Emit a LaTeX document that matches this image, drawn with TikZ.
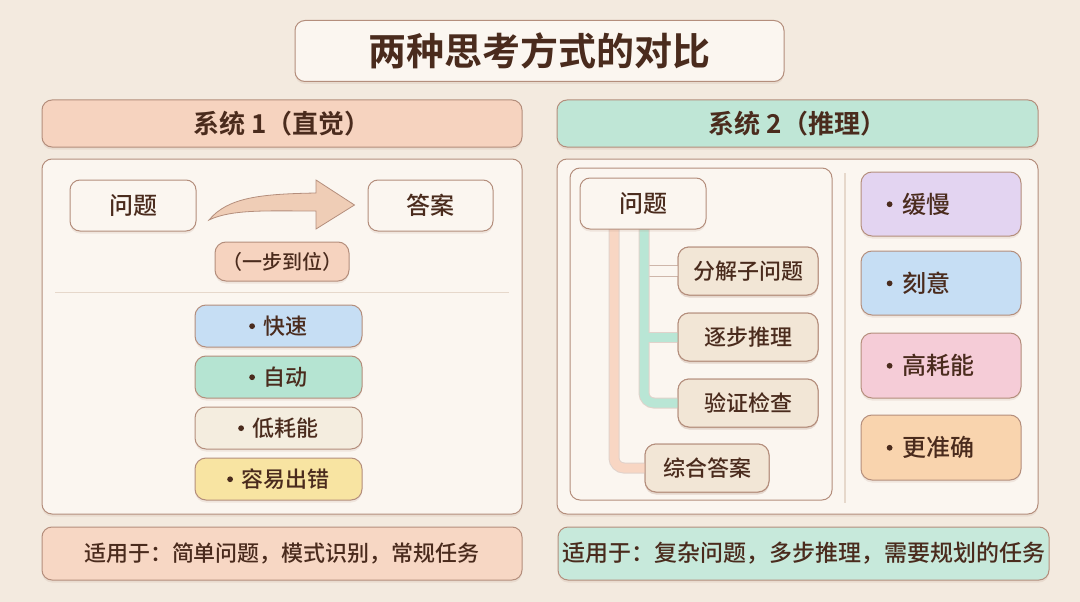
\documentclass[tikz,border=0pt]{standalone}
\usepackage{fontspec}
\setmainfont{Noto Sans CJK SC Medium}[BoldFont={Noto Sans CJK SC Bold}]
\usetikzlibrary{shadows,calc}
\definecolor{bg}{HTML}{F3EADF}
\definecolor{panel}{HTML}{FBF6F0}
\definecolor{bord}{HTML}{B48E7C}
\definecolor{ink}{HTML}{4A2B1D}
\definecolor{peach}{HTML}{F6D3BF}
\definecolor{mint}{HTML}{BFE6D6}
\definecolor{cblue}{HTML}{C6DEF4}
\definecolor{cgreen}{HTML}{B5E4D2}
\definecolor{cream}{HTML}{F4EDDF}
\definecolor{cyellow}{HTML}{F8E4A2}
\definecolor{cpurple}{HTML}{E3D4F1}
\definecolor{cpink}{HTML}{F5CCD7}
\definecolor{corange}{HTML}{F9D4AE}
\definecolor{beige}{HTML}{F2E6D6}
\definecolor{divc}{HTML}{E6D8CB}
\definecolor{arrowf}{HTML}{EFCDB6}
\definecolor{lpeach}{HTML}{F8D6C3}
\definecolor{lgreen}{HTML}{B9E6D5}
\newcommand{\bul}{\raisebox{\dimexpr0.37em-2.9pt\relax}{\tikz\fill[ink] (0,0) circle (2.9pt);}\hspace{0.4em}}
\tikzset{
  shad/.style={drop shadow={shadow xshift=0pt,shadow yshift=-2.5pt,opacity=0.16,fill=bord}},
  box/.style={draw=bord, line width=1pt, rounded corners=10pt, text=ink, inner sep=0pt, fill=panel, shad},
  pill/.style={box, rounded corners=11pt},
  ttl/.style={font=\fontsize{38}{40}\selectfont\bfseries},
  hdr/.style={font=\fontsize{26}{28}\selectfont\bfseries},
  big/.style={font=\fontsize{24}{26}\selectfont},
  mid/.style={font=\fontsize{22}{24}\selectfont},
  sml/.style={font=\fontsize{20}{22}\selectfont},
  lbl/.style={text=ink, inner sep=0pt, anchor=west},
}
\begin{document}
\begin{tikzpicture}[x=1pt,y=-1pt]
\fill[bg] (0,0) rectangle (1080,602);
\useasboundingbox (0,0) rectangle (1080,602);

% title
\node[box, ttl, minimum width=489pt, minimum height=61pt] (title) at (539.5,51) {两种思考方式的对比};

% ---------- system 1 ----------
\node[box, hdr, fill=peach, minimum width=480pt, minimum height=47pt] (h1) at (282,123.5) {系统 1（直觉）};
\node[box, minimum width=480pt, minimum height=355pt] (p1) at (282,336.5) {};
\node[box, big, minimum width=126pt, minimum height=51pt] (q1) at (133,205.5) {问题};
\node[box, big, minimum width=125pt, minimum height=51pt] (a1) at (430.5,205.5) {答案};
\filldraw[fill=arrowf, draw=bord, line width=0.8pt]
  (209,220) .. controls (228,197) and (262,194) .. (316,193)
  -- (316,180) -- (354.5,205) -- (316,229) -- (316,211)
  .. controls (268,211) and (232,209) .. cycle;
\node[pill, sml, fill=peach, minimum width=134pt, minimum height=39pt] (one) at (282,261.5) {（一步到位）};
\draw[divc, line width=1pt] (55,292.5) -- (509,292.5);
\node[pill, mid, fill=cblue, minimum width=167pt, minimum height=42pt] (f1) at (278.5,326) {\bul 快速};
\node[pill, mid, fill=cgreen, minimum width=167pt, minimum height=42pt] (f2) at (278.5,377) {\bul 自动};
\node[pill, mid, fill=cream, minimum width=167pt, minimum height=42pt] (f3) at (278.5,428) {\bul 低耗能};
\node[pill, mid, fill=cyellow, minimum width=167pt, minimum height=42pt] (f4) at (278.5,479) {\bul 容易出错};
\node[box, mid, fill=peach!92!white, minimum width=480pt, minimum height=53pt] (b1) at (282,553.5) {适用于：简单问题，模式识别，常规任务};

% ---------- system 2 ----------
\node[box, hdr, fill=mint, minimum width=481pt, minimum height=47pt] (h2) at (797.5,123.5) {系统 2（推理）};
\node[box, minimum width=481pt, minimum height=355pt] (p2) at (797.5,336.5) {};
\node[draw=bord, line width=1pt, rounded corners=10pt, fill=panel, minimum width=262pt, minimum height=332pt, inner sep=0pt] (inner) at (701,334) {};
\draw[divc, line width=1.2pt] (845,173) -- (845,503);
\coordinate (px) at (614,229);
\coordinate (gx) at (644,229);
\node[pill, mid, fill=beige, minimum width=140pt, minimum height=48pt] (s1) at (748,271) {分解子问题};
\node[pill, mid, fill=beige, minimum width=140pt, minimum height=48pt] (s2) at (748,337) {逐步推理};
\node[pill, mid, fill=beige, minimum width=140pt, minimum height=48pt] (s3) at (748,403) {验证检查};
\node[pill, mid, fill=beige, minimum width=124pt, minimum height=48pt] (syn) at (707,468) {综合答案};
% connectors
\draw[bord!40, line width=11pt, rounded corners=10pt] (px) |- (syn.west);
\draw[lpeach, line width=9pt, rounded corners=10pt] (px) |- ($(syn.west)+(1,0)$);
\draw[bord!65, line width=12pt] (gx |- s1.west) -- (s1.west);
\draw[panel, line width=10pt] (gx |- s1.west) -- ($(s1.west)+(1,0)$);
\draw[bord!40, line width=11pt] (gx |- s2.west) -- (s2.west);
\draw[bord!40, line width=11pt, rounded corners=10pt] (gx) |- (s3.west);
\draw[lgreen, line width=9pt, rounded corners=10pt] (gx) |- ($(s3.west)+(1,0)$);
\draw[lgreen, line width=9pt] (gx |- s2.west) -- ($(s2.west)+(1,0)$);
\node[pill, mid, fill=beige, minimum width=140pt, minimum height=48pt] at (s1) {分解子问题};
\node[pill, mid, fill=beige, minimum width=140pt, minimum height=48pt] at (s2) {逐步推理};
\node[pill, mid, fill=beige, minimum width=140pt, minimum height=48pt] at (s3) {验证检查};
\node[pill, mid, fill=beige, minimum width=124pt, minimum height=48pt] at (syn) {综合答案};
\node[box, big, minimum width=126pt, minimum height=51pt] (q2) at (643,203.5) {问题};

\node[pill, minimum width=160pt, minimum height=64pt, fill=cpurple] (r1) at (941,204) {};
\node[pill, minimum width=160pt, minimum height=64pt, fill=cblue] (r2) at (941,283) {};
\node[pill, minimum width=160pt, minimum height=65pt, fill=cpink] (r3) at (941,365.5) {};
\node[pill, minimum width=160pt, minimum height=65pt, fill=corange] (r4) at (941,447.5) {};
\node[lbl, big] (t1) at (886.5,204) {\bul 缓慢};
\node[lbl, big] (t2) at (886.5,283) {\bul 刻意};
\node[lbl, big] (t3) at (886.5,365.5) {\bul 高耗能};
\node[lbl, big] (t4) at (886.5,447.5) {\bul 更准确};
\node[box, mid, fill=mint!88!white, minimum width=491pt, minimum height=53pt, font=\fontsize{23}{25}\selectfont] (b2) at (803.5,553.5) {适用于：复杂问题，多步推理，需要规划的任务};
\end{tikzpicture}
\end{document}
